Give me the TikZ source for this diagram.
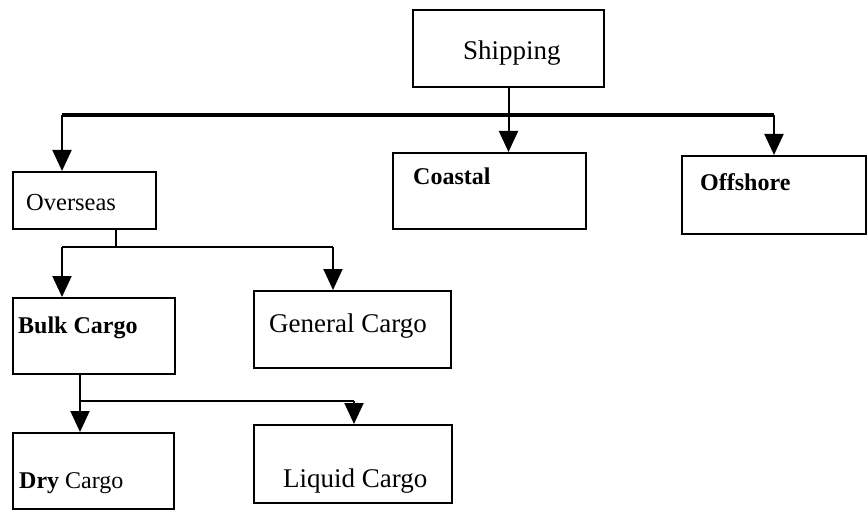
\documentclass[tikz,border=0pt]{standalone}
\usepackage{fontspec}
\setmainfont{Liberation Serif}
\usetikzlibrary{arrows.meta}
\begin{document}
\begin{tikzpicture}[x=1pt,y=-1pt,
  box/.style={draw, line width=2pt, inner sep=0pt, anchor=north west},
  lbl/.style={anchor=base west, inner sep=0pt},
  link/.style={line width=2pt},
  feed/.style={line width=2pt, -{Triangle[width=19pt,length=21pt]}},
  trunk/.style={line width=3.2pt},
  big/.style={font=\fontsize{27}{30}\selectfont},
  mid/.style={font=\fontsize{24.5}{28}\selectfont},
  heavy/.style={font=\fontsize{24}{28}\selectfont\bfseries}
]
\useasboundingbox (0,0) rectangle (867,513);

% boxes
\node[box, minimum width=191, minimum height=77] (ship)     at (412,9)   {};
\node[box, minimum width=143, minimum height=57] (overseas) at (12,171)  {};
\node[box, minimum width=193, minimum height=76] (coastal)  at (392,152) {};
\node[box, minimum width=184, minimum height=78] (offshore) at (681,155) {};
\node[box, minimum width=162, minimum height=76] (bulk)     at (12,297)  {};
\node[box, minimum width=197, minimum height=77] (general)  at (253,290) {};
\node[box, minimum width=161, minimum height=76] (dry)      at (12,432)  {};
\node[box, minimum width=198, minimum height=78] (liquid)   at (253,424) {};

% labels
\node[lbl, big]   (tship)     at (463,60)  {Shipping};
\node[lbl, mid]   (toverseas) at (26,211)  {Overseas};
\node[lbl, heavy] (tcoastal)  at (413,185) {Coastal};
\node[lbl, heavy] (toffshore) at (700,190) {Offshore};
\node[lbl, heavy] (tbulk)     at (18,333)  {Bulk Cargo};
\node[lbl, big]   (tgeneral)  at (269,332) {General Cargo};
\node[lbl, font=\fontsize{24}{28}\selectfont] (tdry) at (19,488) {\textbf{Dry} Cargo};
\node[lbl, big]   (tliquid)   at (283,487) {Liquid Cargo};

% first level
\coordinate (tl) at (62,115);
\coordinate (tr) at (774,115);
\draw[trunk] (tl) -- (tr);
\draw[feed] (ship.south) -- (ship.south |- coastal.north);
\draw[feed] (tl) -- (tl |- overseas.north);
\draw[feed] (tr) -- (tr |- offshore.north);

% overseas branch
\coordinate (odrop) at (116,247);
\coordinate (ol) at (62,247);
\coordinate (or) at (333,247);
\draw[link] (odrop |- overseas.south) -- (odrop);
\draw[link] (ol) -- (or);
\draw[feed] (ol) -- (ol |- bulk.north);
\draw[feed] (or) -- (or |- general.north);

% bulk cargo branch
\coordinate (bj) at (80,401);
\coordinate (br) at (354,401);
\draw[feed] (bj |- bulk.south) -- (bj |- dry.north);
\draw[link] (bj) -- (br);
\draw[feed] (br) -- (br |- liquid.north);
\end{tikzpicture}
\end{document}
